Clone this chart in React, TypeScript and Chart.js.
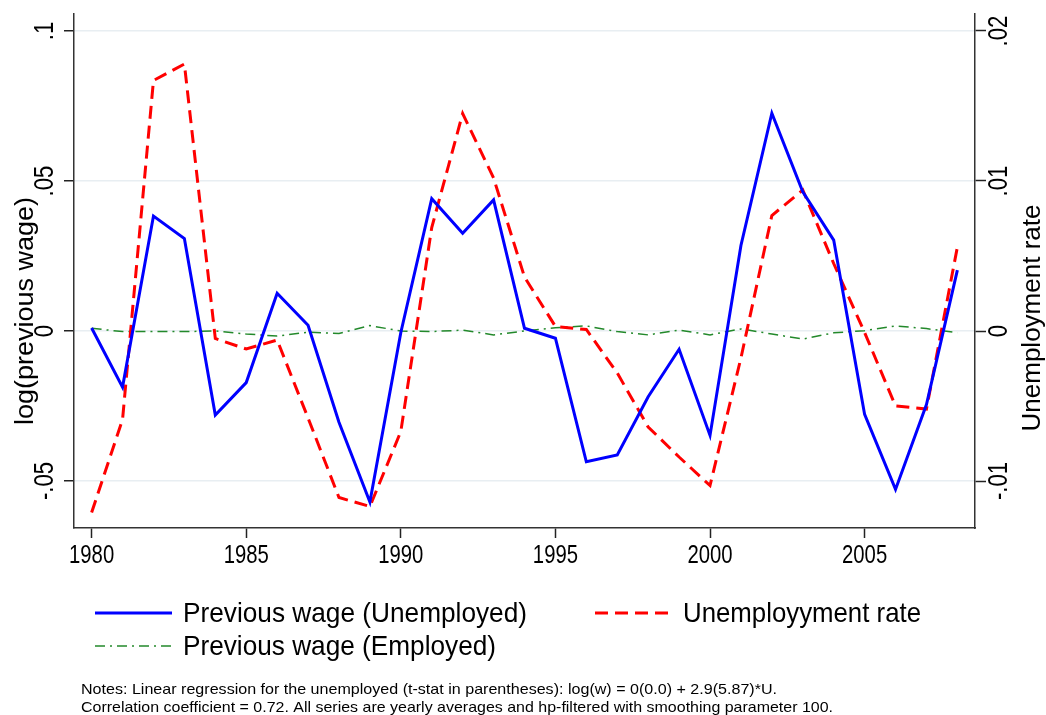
import React, { useEffect, useRef } from "react";
import { Chart, registerables } from "chart.js";

Chart.register(...registerables);

// ---- Data ----
const years = [
  1980, 1981, 1982, 1983, 1984, 1985, 1986, 1987, 1988, 1989,
  1990, 1991, 1992, 1993, 1994, 1995, 1996, 1997, 1998, 1999,
  2000, 2001, 2002, 2003, 2004, 2005, 2006, 2007, 2008,
];

// log(previous wage), unemployed (left axis)
const wageUnemployed = [
  0.001, -0.0187, 0.0383, 0.0308, -0.028, -0.0172, 0.0126, 0.0019, -0.0304, -0.057,
  -0.0005, 0.0441, 0.0326, 0.0437, 0.0009, -0.0024, -0.0436, -0.0413, -0.0219, -0.0061,
  -0.0348, 0.0285, 0.0726, 0.0464, 0.0303, -0.0278, -0.0528, -0.0245, 0.0203,
];

// unemployment rate (right axis)
const unemploymentRate = [
  -0.0121, -0.0059, 0.0167, 0.0178, -0.0005, -0.0012, -0.0006, -0.0058, -0.0111, -0.0117,
  -0.0067, 0.0069, 0.0145, 0.0102, 0.0036, 0.0003, 0.0001, -0.0028, -0.0064, -0.0084,
  -0.0103, -0.0018, 0.0077, 0.0094, 0.0045, -0.0001, -0.005, -0.0052, 0.0056,
];

// log(previous wage), employed (left axis)
const wageEmployed = [
  0.0009, -0.0002, -0.0002, -0.0002, 0.0, -0.001, -0.0017, -0.0004, -0.0008, 0.0018,
  0.0, -0.0002, 0.0003, -0.0013, 0.0, 0.0011, 0.0017, -0.0002, -0.0013, 0.0003,
  -0.0013, 0.0007, -0.001, -0.0027, -0.0006, 0.0001, 0.0017, 0.0008, -0.0006,
];

const xTicks = [1980, 1985, 1990, 1995, 2000, 2005];
const xTickLabels = ["1980", "1985", "1990", "1995", "2000", "2005"];
const leftTicks = [-0.05, 0, 0.05, 0.1];
const leftTickLabels = ["-.05", "0", ".05", ".1"];
const rightTicks = [-0.01, 0, 0.01, 0.02];
const rightTickLabels = ["-.01", "0", ".01", ".02"];

const seriesLabels = [
  "Previous wage (Unemployed)",
  "Unemployyment rate",
  "Previous wage (Employed)",
];
const leftTitle = "log(previous wage)";
const rightTitle = "Unemployment rate";
const notes = [
  "Notes: Linear regression for the unemployed (t-stat in parentheses): log(w) = 0(0.0) + 2.9(5.87)*U.",
  "Correlation coefficient = 0.72. All series are yearly averages and hp-filtered with smoothing parameter 100.",
];

const FONT = '"Liberation Sans", Arial, sans-serif';
const BLUE = "#0000ff";
const RED = "#ff0000";
const GREEN = "#23892b";
const RED_DASH = [13, 7];
const GREEN_DASH = [10, 5, 2, 5];

type TextOpts = {
  size: number;
  align?: CanvasTextAlign;
  sx?: number;
  width?: number;
  rot?: number;
};

function drawText(ctx: CanvasRenderingContext2D, text: string, x: number, y: number, o: TextOpts) {
  ctx.save();
  ctx.translate(x, y);
  if (o.rot) ctx.rotate(o.rot);
  ctx.font = `${o.size}px ${FONT}`;
  const w = ctx.measureText(text).width;
  const sx = o.width ? o.width / w : o.sx ?? 1;
  ctx.scale(sx, 1);
  ctx.textAlign = o.align ?? "left";
  ctx.textBaseline = "alphabetic";
  ctx.fillStyle = "#000";
  ctx.fillText(text, 0, 0);
  ctx.restore();
}

const textPlugin = {
  id: "stataText",
  afterDraw(chart: any) {
    const ctx: CanvasRenderingContext2D = chart.ctx;
    const xs = chart.scales.x;
    const yl = chart.scales.y;
    const yr = chart.scales.y1;

    xTicks.forEach((v, i) => {
      drawText(ctx, xTickLabels[i], xs.getPixelForValue(v), 563, { size: 26, align: "center", sx: 0.78 });
    });
    leftTicks.forEach((v, i) => {
      drawText(ctx, leftTickLabels[i], 53, yl.getPixelForValue(v), {
        size: 27, align: "center", sx: 0.82, rot: -Math.PI / 2,
      });
    });
    rightTicks.forEach((v, i) => {
      drawText(ctx, rightTickLabels[i], 1007, yr.getPixelForValue(v), {
        size: 27, align: "center", sx: 0.82, rot: -Math.PI / 2,
      });
    });

    drawText(ctx, leftTitle, 33, 311, { size: 26, align: "center", width: 228, rot: -Math.PI / 2 });
    drawText(ctx, rightTitle, 1040, 318, { size: 26, align: "center", width: 227, rot: -Math.PI / 2 });

    // legend
    const sample = (x1: number, x2: number, y: number, color: string, w: number, dash: number[]) => {
      ctx.save();
      ctx.strokeStyle = color;
      ctx.lineWidth = w;
      ctx.setLineDash(dash);
      ctx.beginPath();
      ctx.moveTo(x1, y);
      ctx.lineTo(x2, y);
      ctx.stroke();
      ctx.restore();
    };
    sample(95, 172, 613, BLUE, 3, []);
    sample(595, 672, 613, RED, 3, RED_DASH);
    sample(95, 172, 646, GREEN, 1.5, GREEN_DASH);
    drawText(ctx, seriesLabels[0], 183, 622, { size: 28, width: 344 });
    drawText(ctx, seriesLabels[1], 683, 622, { size: 28, width: 238 });
    drawText(ctx, seriesLabels[2], 183, 655, { size: 28, width: 313 });

    drawText(ctx, notes[0], 81, 694, { size: 15, width: 696 });
    drawText(ctx, notes[1], 81, 712, { size: 15, width: 752 });
  },
};

export default function App() {
  const ref = useRef<HTMLCanvasElement | null>(null);

  useEffect(() => {
    if (!ref.current) return;
    const pts = (arr: number[]) => years.map((yr, i) => ({ x: yr, y: arr[i] }));
    const fixTicks = (vals: number[]) => (s: any) => {
      s.ticks = vals.map((v) => ({ value: v }));
    };
    const chart = new Chart(ref.current, {
      type: "line",
      data: {
        datasets: [
          {
            label: seriesLabels[0],
            data: pts(wageUnemployed),
            yAxisID: "y",
            borderColor: BLUE,
            borderWidth: 3,
            pointRadius: 0,
            tension: 0,
            fill: false,
          },
          {
            label: seriesLabels[1],
            data: pts(unemploymentRate),
            yAxisID: "y1",
            borderColor: RED,
            borderWidth: 3,
            borderDash: RED_DASH,
            pointRadius: 0,
            tension: 0,
            fill: false,
          },
          {
            label: seriesLabels[2],
            data: pts(wageEmployed),
            yAxisID: "y",
            borderColor: GREEN,
            borderWidth: 1.5,
            borderDash: GREEN_DASH,
            pointRadius: 0,
            tension: 0,
            fill: false,
          },
        ],
      },
      options: {
        animation: false,
        responsive: false,
        maintainAspectRatio: false,
        layout: { padding: { top: 14, left: 0, right: 0, bottom: 0 } },
        plugins: { legend: { display: false }, tooltip: { enabled: false } },
        scales: {
          x: {
            type: "linear",
            min: 1979.43,
            max: 2008.57,
            afterBuildTicks: fixTicks(xTicks),
            afterFit: (s: any) => { s.height = 187; },
            ticks: { display: false },
            grid: { drawOnChartArea: false, drawTicks: true, tickLength: 10, tickColor: "#222", tickWidth: 1.5 },
            border: { display: true, color: "#333", width: 1.5 },
          },
          y: {
            type: "linear",
            position: "left",
            min: -0.06567,
            max: 0.10567,
            afterBuildTicks: fixTicks(leftTicks),
            afterFit: (s: any) => { s.width = 74; },
            ticks: { display: false },
            grid: { color: "#e8eef2", lineWidth: 1.5, drawTicks: true, tickLength: 10, tickColor: "#222", tickWidth: 1.5 },
            border: { display: true, color: "#333", width: 1.5 },
          },
          y1: {
            type: "linear",
            position: "right",
            min: -0.013133,
            max: 0.021133,
            afterBuildTicks: fixTicks(rightTicks),
            afterFit: (s: any) => { s.width = 71; },
            ticks: { display: false },
            grid: { drawOnChartArea: false, drawTicks: true, tickLength: 11, tickColor: "#222", tickWidth: 1.5 },
            border: { display: true, color: "#333", width: 1.5 },
          },
        },
      },
      plugins: [textPlugin],
    } as any);
    return () => chart.destroy();
  }, []);

  return (
    <div style={{ position: "absolute", left: 0, top: 0, width: 1046, height: 715, background: "#fff" }}>
      <canvas ref={ref} width={1046} height={715} style={{ display: "block", width: 1046, height: 715 }} />
    </div>
  );
}
